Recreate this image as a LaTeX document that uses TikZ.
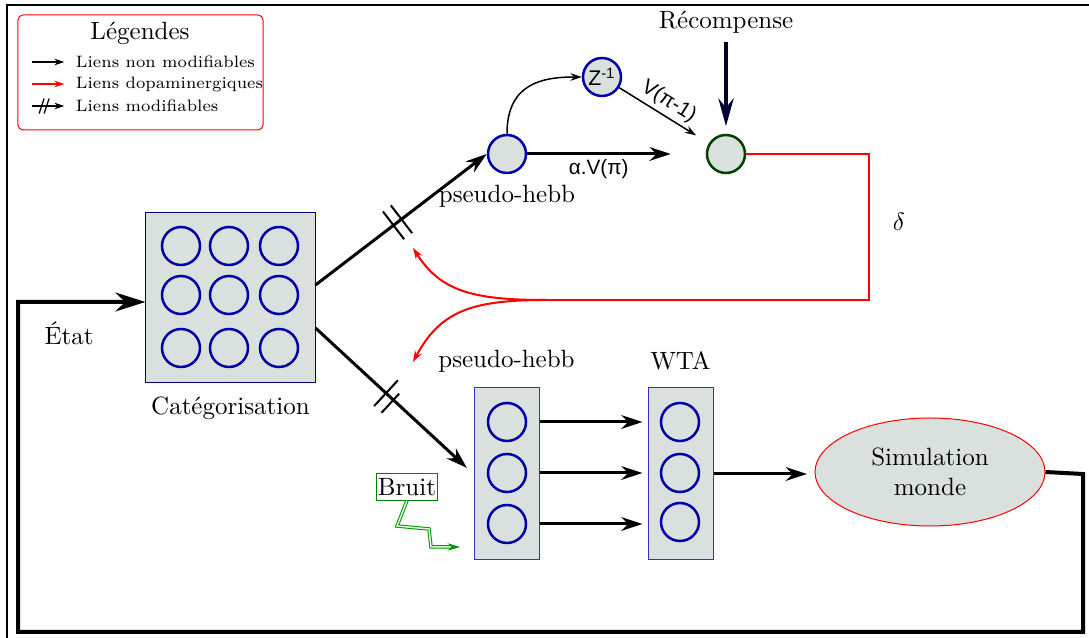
\documentclass[tikz,border=0pt]{standalone}
\usepackage{fontspec}
\newfontfamily\labelfont{Liberation Sans}
\usepackage{tikz}
\usetikzlibrary{arrows.meta,positioning,calc,shapes.geometric,decorations.markings}

\definecolor{cellgray}{RGB}{218,224,221}
\definecolor{cellblue}{RGB}{0,0,170}
\definecolor{rewgreen}{RGB}{0,64,0}
\definecolor{rewnavy}{RGB}{0,0,50}
\definecolor{noisegreen}{RGB}{0,150,0}

\begin{document}
\begin{tikzpicture}[
    x=0.4pt, y=-0.4pt,
    cell/.style={circle, draw=cellblue, line width=1pt, fill=cellgray, minimum size=15.2pt, inner sep=0pt},
    catbox/.style={draw=cellblue!70!black, fill=cellgray, minimum width=67.6pt, minimum height=68pt},
    layer/.style={draw=cellblue!80, fill=cellgray, minimum width=26pt, minimum height=68.8pt},
    legtext/.style={anchor=west, font=\fontsize{6.6}{8}\selectfont, inner sep=1pt},
    flowlbl/.style={inner sep=1.5pt, font=\labelfont\fontsize{8.3}{9}\selectfont},
    arrow/.style={-{Stealth[length=8.5pt,width=5.5pt]}, line width=1.2pt},
    thinarrow/.style={-{Stealth[length=4.5pt,width=3pt]}, semithick},
    legarrow/.style={-{Stealth[length=4pt,width=2.6pt]}, semithick},
    dopa/.style={-{Stealth[length=4.5pt,width=3pt]}, red, line width=0.8pt},
    modlink/.style={arrow, decoration={markings, mark=at position #1 with {\draw[-, line width=0.8pt] (-2pt,-7pt) -- (-2pt,7pt) (2pt,-7pt) -- (2pt,7pt);}}, postaction={decorate}},
    modsmall/.style={legarrow, decoration={markings, mark=at position #1 with {\draw[-, line width=0.5pt] (-3pt,-3pt) -- (-1pt,3pt) (-1pt,-3pt) -- (1pt,3pt);}}, postaction={decorate}},
    noise/.style={draw=noisegreen, double=green!15, double distance=0.6pt, line width=0.4pt, -{Stealth[length=5pt,width=3pt]}}
]
\useasboundingbox (0,0) rectangle (1089,638);
\draw[line width=0.6pt] (7,638) -- (7,5) -- (1089,5);

\node[draw=red, rounded corners=2pt, minimum width=98pt, minimum height=46pt] (legend) at (140.5,72.5) {};
\node (lgtitle) at (140,33) {Légendes};
\node[legtext] (lg1) at (73,62) {Liens non modifiables};
\node[legtext] (lg2) at (73,84) {Liens dopaminergiques};
\node[legtext] (lg3) at (73,106) {Liens modifiables};
\draw[legarrow] ([xshift=-16.4pt]lg1.west) -- ([xshift=-3.4pt]lg1.west);
\draw[legarrow, red] ([xshift=-16.4pt]lg2.west) -- ([xshift=-3.4pt]lg2.west);
\draw[modsmall=0.45] ([xshift=-16.4pt]lg3.west) -- ([xshift=-3.4pt]lg3.west);

\node[catbox] (cat) at (230.5,298) {};
\foreach \i/\y in {1/246,2/295,3/348}
  \foreach \j/\x in {1/181,2/229,3/279}
    \node[cell] (c-\i-\j) at (\x,\y) {};
\node[below=2pt of cat] (catlbl) {Catégorisation};

\node[cell] (hebbA) at (507,154) {};
\node[below=1pt of hebbA] (hebbAlbl) {pseudo-hebb};
\node[cell] (zinv) at (602,77) {\labelfont\fontsize{8.5}{9}\selectfont Z\textsuperscript{-1}};
\node[cell, draw=rewgreen] (rew) at (726,154) {};
\node (recomp) at (726,22) {Récompense};
\draw[-{Stealth[length=11pt,width=6pt]}, line width=1.8pt, rewnavy, shorten >=3pt] (recomp) -- (rew);
\draw[arrow, shorten >=14pt] (hebbA) -- (rew) node[pos=0.4, below, flowlbl] {α.V(π)};
\draw[thinarrow] (hebbA.north) .. controls +(0,-50) and +(-40,0) .. (zinv.west);
\draw[thinarrow, shorten >=6pt] (zinv) -- (rew) node[pos=0.47, above, sloped, flowlbl] {V(π-1)};

\coordinate (dA) at (869,154);
\coordinate (dB) at (869,300);
\coordinate (dC) at (545,300);
\coordinate (tgtA) at (413,248);
\coordinate (tgtB) at (413,362);
\draw[red, line width=0.8pt] (rew) -- (dA) -- (dB) -- (dC);
\draw[dopa] (dC) .. controls (470,300) and (440,290) .. (tgtA);
\draw[dopa] (dC) .. controls (470,300) and (440,312) .. (tgtB);
\node (deltalbl) at (899,222) {$\delta$};

\draw[modlink=0.48] ($(cat.east)+(0,-13)$) -- (hebbA.west);

\node[layer] (phB) at (506.5,474) {};
\foreach \k/\y in {1/422,2/473,3/524}
  \node[cell] (p\k) at (507,\y) {};
\node[above=2.5pt of phB] (phBlbl) {pseudo-hebb};
\node[layer] (wta) at (680.5,474) {};
\foreach \k/\y in {1/422,2/473,3/522}
  \node[cell] (w\k) at (680,\y) {};
\node[above=3.5pt of wta] (wtalbl) {WTA};

\draw[modlink=0.47, shorten >=3.6pt] ($(cat.east)+(0,30)$) -- (phB.west);
\foreach \k in {1,2,3}
  \draw[arrow, shorten >=2pt] (p\k -| phB.east) -- (p\k -| wta.west);

\node[ellipse, draw=red, fill=cellgray, minimum width=92pt, minimum height=43.2pt, align=center] (sim) at (930,472) {Simulation\\monde};
\draw[arrow, shorten >=3pt] (wta.east) -- (wta.east -| sim.west);

\coordinate (lp1) at (1083,474);
\coordinate (lp2) at (1083,632);
\coordinate (lp3) at (18,632);
\coordinate (lp4) at (18,302);
\draw[-{Stealth[length=12pt,width=7.5pt]}, line width=1.6pt] (sim.east) -- (lp1) -- (lp2) -- (lp3) -- (lp4) -- (lp4 -| cat.west);
\node (etat) at (69,333) {État};

\node[draw=green!50!black, inner xsep=0.5pt, inner ysep=1.8pt] (bruit) at (407,487) {Bruit};
\coordinate (z1) at (397,526);
\coordinate (z2) at (429,529);
\coordinate (z3) at (431,547);
\coordinate (z4) at (460,547);
\draw[noise] (bruit.south) -- (z1) -- (z2) -- (z3) -- (z4);
\end{tikzpicture}
\end{document}
